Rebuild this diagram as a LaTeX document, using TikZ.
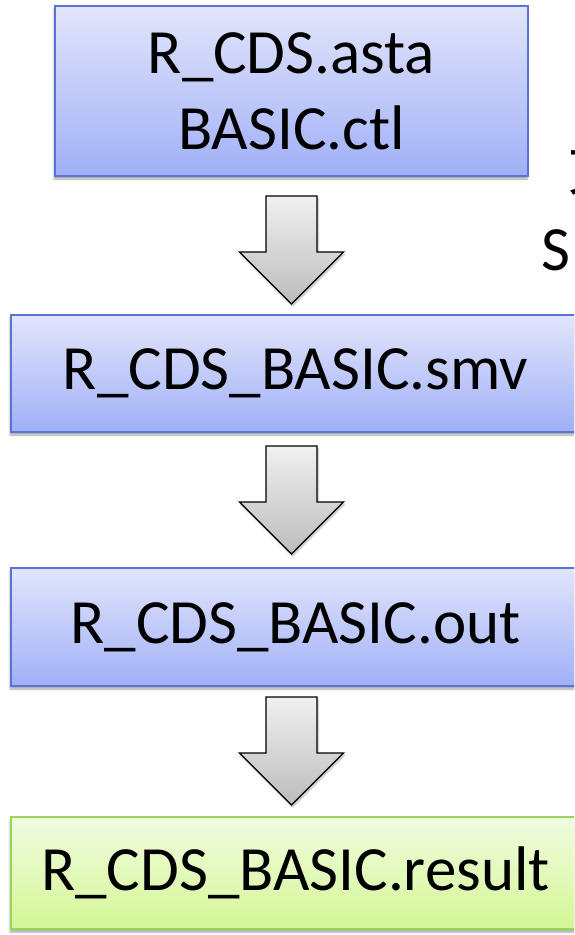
\documentclass[tikz,border=0pt]{standalone}
\usepackage{fontspec}
\setmainfont{Carlito}
\newfontfamily\cjkfont{Noto Sans CJK SC}
\usetikzlibrary{shadows.blur}

\definecolor{boxtop}{RGB}{226,229,251}
\definecolor{boxbot}{RGB}{160,176,247}
\definecolor{boxedge}{RGB}{88,116,212}
\definecolor{restop}{RGB}{241,252,224}
\definecolor{resbot}{RGB}{212,246,150}
\definecolor{resedge}{RGB}{150,214,88}
\definecolor{arrtop}{RGB}{240,240,240}
\definecolor{arrbot}{RGB}{188,188,188}

\tikzset{
  filebox/.style={draw=boxedge, line width=1.2pt, top color=boxtop, bottom color=boxbot,
    rectangle, inner sep=0pt, font=\fontsize{63}{76}\selectfont, align=center,
    blur shadow={shadow xshift=-1pt, shadow yshift=-3pt, shadow blur steps=6, shadow opacity=35}},
  resultbox/.style={filebox, draw=resedge, top color=restop, bottom color=resbot},
  pics/flowdown/.style={code={
    \path[draw=black, line width=1.1pt, line join=miter, top color=arrtop, bottom color=arrbot,
      blur shadow={shadow xshift=1pt, shadow yshift=-2pt, shadow blur steps=5, shadow opacity=30}]
      (-25.5,0) -- (25.5,0) -- (25.5,56) -- (52,56) -- (0,108) -- (-52,56) -- (-25.5,56) -- cycle;
  }}
}

\begin{document}
\begin{tikzpicture}[x=1pt, y=-1pt]
  \useasboundingbox (0,0) rectangle (574,935);
  \clip (0,0) rectangle (574,935);

  % input files
  \node[filebox, minimum width=473pt, minimum height=170pt] (src) at (291.5,91)
    {R\_CDS.asta\\BASIC.ctl};
  % generated model, checker output and final result
  \node[filebox, minimum width=569pt, minimum height=117pt] (smv) at (295.5,373.5)
    {R\_CDS\_BASIC.smv};
  \node[filebox, minimum width=569pt, minimum height=118pt] (out) at (295.5,627)
    {R\_CDS\_BASIC.out};
  \node[resultbox, minimum width=569pt, minimum height=112pt] (res) at (295.5,873)
    {R\_CDS\_BASIC.result};

  % block arrows between the stages
  \pic at (291.5,196) {flowdown};
  \pic at (291.5,446) {flowdown};
  \pic at (291.5,697) {flowdown};

  % side label, running off the right edge
  \node[anchor=base west, inner sep=0pt, font=\cjkfont\fontsize{60}{60}\selectfont] (sideA) at (568,190) {文};
  \node[anchor=base west, inner sep=0pt, font=\fontsize{63}{63}\selectfont] (sideB) at (541,270) {S};
\end{tikzpicture}
\end{document}
